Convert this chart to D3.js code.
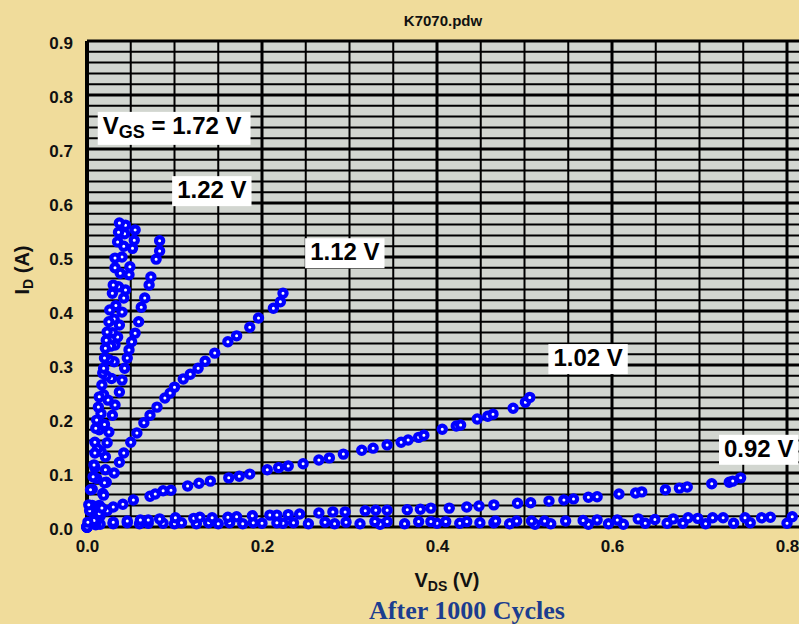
<!DOCTYPE html>
<html>
<head>
<meta charset="utf-8">
<script src="https://cdn.jsdelivr.net/npm/d3@7/dist/d3.min.js"></script>
<style>
  body { margin: 0; background: #f0dc9b; overflow: hidden; }
  svg { display: block; }
</style>
</head>
<body>
<div id="chart"></div>
<script>
// Drain current I_D (A) vs V_DS (V), one list of [Vds, Id] per gate voltage
const vgs172 = [[0,0],[0.001,0.009],[0.002,0.041],[0.004,0.069],[0.007,0.093],[0.008,0.115],[0.009,0.137],[0.009,0.157],[0.010,0.183],[0.011,0.198],[0.013,0.222],[0.014,0.241],[0.017,0.263],[0.018,0.285],[0.019,0.294],[0.020,0.313],[0.021,0.331],[0.022,0.346],[0.023,0.361],[0.025,0.380],[0.026,0.402],[0.029,0.433],[0.030,0.448],[0.032,0.480],[0.032,0.498],[0.035,0.528],[0.036,0.546],[0.037,0.563]];
const vgs162 = [[0,0],[0.003,0.030],[0.006,0.070],[0.009,0.110],[0.012,0.145],[0.014,0.180],[0.016,0.210],[0.019,0.245],[0.022,0.280],[0.025,0.310],[0.027,0.335],[0.029,0.360],[0.031,0.385],[0.033,0.410],[0.036,0.445],[0.038,0.470],[0.040,0.500],[0.042,0.520],[0.043,0.543],[0.044,0.559]];
const vgs142 = [[0,0],[0.006,0.040],[0.011,0.090],[0.016,0.140],[0.020,0.190],[0.024,0.235],[0.028,0.275],[0.031,0.306],[0.032,0.337],[0.035,0.352],[0.037,0.374],[0.040,0.398],[0.042,0.424],[0.044,0.439],[0.048,0.467],[0.049,0.482],[0.052,0.516],[0.054,0.531],[0.055,0.550]];
const vgs122 = [[0,0],[0.008,0.012],[0.014,0.025],[0.017,0.035],[0.019,0.059],[0.020,0.082],[0.021,0.106],[0.021,0.130],[0.023,0.156],[0.025,0.176],[0.029,0.207],[0.032,0.226],[0.037,0.250],[0.040,0.272],[0.043,0.294],[0.046,0.313],[0.048,0.328],[0.051,0.343],[0.055,0.359],[0.059,0.380],[0.062,0.407],[0.066,0.424],[0.071,0.448],[0.073,0.463],[0.079,0.496],[0.083,0.511],[0.083,0.530]];
const vgs112 = [[0,0],[0.004,0.008],[0.009,0.020],[0.014,0.040],[0.018,0.062],[0.022,0.083],[0.031,0.100],[0.037,0.120],[0.042,0.137],[0.050,0.157],[0.057,0.174],[0.065,0.193],[0.072,0.207],[0.080,0.222],[0.089,0.239],[0.095,0.248],[0.100,0.259],[0.110,0.274],[0.118,0.283],[0.127,0.294],[0.135,0.307],[0.146,0.322],[0.161,0.343],[0.171,0.354],[0.186,0.370],[0.196,0.387],[0.213,0.405],[0.221,0.417],[0.224,0.433]];
const vgs102 = [[0,0],[0.008,0.010],[0.015,0.020],[0.023,0.030],[0.030,0.037],[0.041,0.042],[0.053,0.050],[0.072,0.057],[0.078,0.061],[0.087,0.067],[0.096,0.068],[0.115,0.076],[0.128,0.081],[0.141,0.085],[0.162,0.091],[0.174,0.094],[0.186,0.098],[0.206,0.106],[0.219,0.110],[0.230,0.113],[0.247,0.117],[0.265,0.124],[0.277,0.128],[0.293,0.135],[0.314,0.142],[0.327,0.146],[0.343,0.152],[0.359,0.157],[0.367,0.161],[0.379,0.166],[0.385,0.170],[0.406,0.181],[0.422,0.187],[0.427,0.189],[0.446,0.200],[0.458,0.205],[0.464,0.209],[0.487,0.220],[0.501,0.231],[0.506,0.240]];
const vgs092 = [[0,0],[0.010,0.006],[0.030,0.009],[0.046,0.011],[0.061,0.013],[0.070,0.013],[0.083,0.015],[0.101,0.017],[0.122,0.016],[0.129,0.018],[0.143,0.017],[0.161,0.018],[0.171,0.019],[0.189,0.021],[0.209,0.022],[0.217,0.022],[0.230,0.023],[0.243,0.024],[0.265,0.026],[0.281,0.028],[0.295,0.028],[0.318,0.030],[0.330,0.031],[0.343,0.031],[0.366,0.032],[0.381,0.033],[0.393,0.035],[0.414,0.035],[0.434,0.037],[0.448,0.039],[0.465,0.041],[0.492,0.044],[0.507,0.045],[0.528,0.048],[0.545,0.050],[0.556,0.052],[0.573,0.055],[0.583,0.056],[0.608,0.061],[0.627,0.063],[0.634,0.065],[0.661,0.069],[0.677,0.072],[0.686,0.074],[0.714,0.080],[0.734,0.083],[0.738,0.085],[0.747,0.091]];
const vgs082 = [[0,0],[0.015,0.005],[0.030,0.007],[0.046,0.008],[0.070,0.007],[0.087,0.007],[0.108,0.008],[0.139,0.008],[0.163,0.008],[0.190,0.008],[0.217,0.008],[0.236,0.008],[0.272,0.009],[0.296,0.009],[0.329,0.010],[0.343,0.010],[0.379,0.010],[0.393,0.010],[0.410,0.010],[0.434,0.010],[0.467,0.011],[0.491,0.011],[0.508,0.011],[0.523,0.011],[0.547,0.011],[0.567,0.012],[0.583,0.013],[0.606,0.013],[0.630,0.015],[0.649,0.014],[0.670,0.015],[0.687,0.017],[0.698,0.016],[0.715,0.017],[0.727,0.017],[0.752,0.017],[0.771,0.017],[0.781,0.018],[0.806,0.019]];
const vgs072 = [[0,0],[0.010,0.004],[0.030,0.006],[0.060,0.006],[0.100,0.006],[0.125,0.006],[0.150,0.006],[0.178,0.006],[0.200,0.007],[0.224,0.007],[0.253,0.006],[0.283,0.006],[0.312,0.006],[0.335,0.005],[0.363,0.006],[0.400,0.007],[0.426,0.007],[0.449,0.008],[0.465,0.008],[0.483,0.006],[0.512,0.005],[0.530,0.006],[0.573,0.005],[0.596,0.006],[0.613,0.005],[0.638,0.007],[0.663,0.007],[0.681,0.007],[0.707,0.006],[0.739,0.007],[0.758,0.008],[0.800,0.007]];

const allSeries = [vgs072, vgs082, vgs092, vgs102, vgs112, vgs122, vgs142, vgs162, vgs172];

// Curve labels: text and the data point where the label text starts (baseline)
const labelTexts = ['1.72 V', '1.22 V', '1.12 V', '1.02 V', '0.92 V'];
const labelVds = [0.018, 0.103, 0.255, 0.533, 0.728];
const labelId = [0.728, 0.609, 0.494, 0.298, 0.130];

const xTickValues = [0, 0.2, 0.4, 0.6, 0.8];
const yTickValues = [0, 0.1, 0.2, 0.3, 0.4, 0.5, 0.6, 0.7, 0.8, 0.9];

const W = 799, H = 624;
const margin = { top: 41, left: 87 };
const plotW = 787.5, plotH = 486;
const font = "'Liberation Sans', Arial, Helvetica, sans-serif";

const svg = d3.select('#chart').append('svg')
    .attr('width', W)
    .attr('height', H);

svg.append('rect').attr('width', W).attr('height', H).attr('fill', '#f0dc9b');

const g = svg.append('g').attr('transform', `translate(${margin.left},${margin.top})`);

const x = d3.scaleLinear().domain([0, 0.9]).range([0, plotW]);
const y = d3.scaleLinear().domain([0, 0.9]).range([plotH, 0]);

// plot background
g.append('rect')
    .attr('width', plotW)
    .attr('height', plotH)
    .attr('fill', '#d2d6d0');

const isMult = (v, step) => Math.abs(v / step - Math.round(v / step)) < 1e-6;

// horizontal grid every 0.02, heavier every 0.1
g.append('g').selectAll('line')
    .data(y.ticks(45))
    .join('line')
    .attr('x1', 0).attr('x2', plotW)
    .attr('y1', d => y(d)).attr('y2', d => y(d))
    .attr('stroke', '#000')
    .attr('stroke-width', d => isMult(d, 0.1) ? 3 : 2);

// vertical grid every 0.05, heavier every 0.2
g.append('g').selectAll('line')
    .data(x.ticks(18))
    .join('line')
    .attr('y1', 0).attr('y2', plotH)
    .attr('x1', d => x(d)).attr('x2', d => x(d))
    .attr('stroke', '#000')
    .attr('stroke-width', d => d === 0 ? 4 : (isMult(d, 0.2) ? 3 : 2));

// axes (labels only)
const yAxis = d3.axisLeft(y).tickValues(yTickValues).tickFormat(d3.format('.1f')).tickSize(0).tickPadding(14);
const yg = g.append('g').call(yAxis);
yg.select('.domain').remove();
yg.selectAll('text')
    .attr('font-family', font)
    .attr('font-weight', 'bold')
    .attr('font-size', 17)
    .attr('fill', '#111')
    .attr('dy', '0.45em');

const xAxis = d3.axisBottom(x).tickValues(xTickValues).tickFormat(d3.format('.1f')).tickSize(0).tickPadding(13);
const xg = g.append('g').attr('transform', `translate(0,${plotH})`).call(xAxis);
xg.select('.domain').remove();
xg.selectAll('text')
    .attr('font-family', font)
    .attr('font-weight', 'bold')
    .attr('font-size', 17)
    .attr('fill', '#111');

// data markers
allSeries.forEach(series => {
    g.append('g').selectAll('circle')
        .data(series)
        .join('circle')
        .attr('cx', d => x(d[0]))
        .attr('cy', d => y(d[1]))
        .attr('r', 3.6)
        .attr('fill', '#fff')
        .attr('stroke', '#0000ff')
        .attr('stroke-width', 4.2);
});

// curve labels in white boxes
labelTexts.forEach((txt, i) => {
    const lg = g.append('g');
    const box = lg.append('rect').attr('fill', '#fff');
    const t = lg.append('text')
        .attr('x', x(labelVds[i]))
        .attr('y', y(labelId[i]))
        .attr('font-family', font)
        .attr('font-weight', 'bold')
        .attr('font-size', 24)
        .attr('fill', '#000');
    if (i === 0) {
        t.append('tspan').text('V');
        t.append('tspan').attr('font-size', 18).attr('dy', 4).text('GS');
        t.append('tspan').attr('dy', -4).text(' = ' + txt);
    } else {
        t.text(txt);
    }
    const bb = t.node().getBBox();
    const padR = i === 0 ? 9 : 5;
    box.attr('x', bb.x - 5)
        .attr('y', bb.y)
        .attr('width', bb.width + 5 + padR)
        .attr('height', bb.height + 3);
});

// title
svg.append('text')
    .attr('x', 443).attr('y', 26)
    .attr('text-anchor', 'middle')
    .attr('font-family', font)
    .attr('font-weight', 'bold')
    .attr('font-size', 15)
    .attr('fill', '#111')
    .text('K7070.pdw');

// y axis title
const yt = svg.append('text')
    .attr('transform', 'translate(29,270) rotate(-90)')
    .attr('text-anchor', 'middle')
    .attr('font-family', font)
    .attr('font-weight', 'bold')
    .attr('font-size', 20)
    .attr('fill', '#111');
yt.append('tspan').text('I');
yt.append('tspan').attr('font-size', 14).attr('dy', 4).text('D');
yt.append('tspan').attr('dy', -4).text(' (A)');

// x axis title
const xt = svg.append('text')
    .attr('x', 447).attr('y', 587)
    .attr('text-anchor', 'middle')
    .attr('font-family', font)
    .attr('font-weight', 'bold')
    .attr('font-size', 20)
    .attr('fill', '#111');
xt.append('tspan').text('V');
xt.append('tspan').attr('font-size', 14).attr('dy', 4).text('DS');
xt.append('tspan').attr('dy', -4).text(' (V)');

// caption
svg.append('text')
    .attr('x', 467).attr('y', 619)
    .attr('text-anchor', 'middle')
    .attr('font-family', "'Liberation Serif', 'Times New Roman', serif")
    .attr('font-weight', 'bold')
    .attr('font-size', 26)
    .attr('fill', '#1c3d8f')
    .text('After 1000 Cycles');
</script>
</body>
</html>
